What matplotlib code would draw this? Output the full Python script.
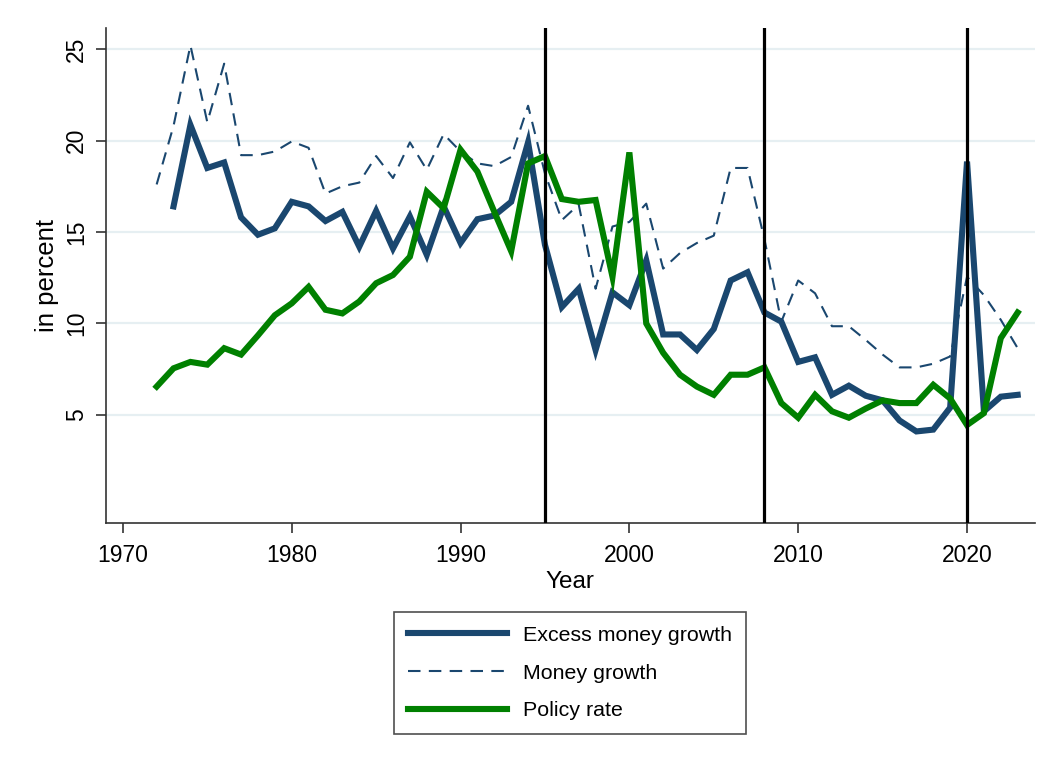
import matplotlib
matplotlib.use("Agg")
import matplotlib.pyplot as plt

# Data
years = list(range(1972, 2024))

excess_money_growth = [
    None, 16.4, 20.85, 18.5, 18.8, 15.8, 14.85, 15.2, 16.65, 16.4,
    15.6, 16.1, 14.2, 16.15, 14.1, 15.85, 13.75, 16.4, 14.4, 15.7,
    15.9, 16.65, 19.9, 14.3, 10.9, 11.9, 8.55, 11.7, 11.0, 13.45,
    9.4, 9.4, 8.55, 9.7, 12.35, 12.8, 10.6, 10.1, 7.9, 8.15,
    6.1, 6.6, 6.05, 5.8, 4.7, 4.1, 4.2, 5.4, 18.85, 5.2,
    6.0, 6.1,
]

money_growth = [
    17.6, 20.8, 25.2, 21.0, 24.2, 19.2, 19.2, 19.4, 19.95, 19.6,
    17.1, 17.5, 17.7, 19.15, 17.95, 19.9, 18.4, 20.35, 19.4, 18.75,
    18.6, 19.1, 21.9, 18.2, 15.65, 16.5, 11.9, 15.3, 15.55, 16.55,
    13.0, 13.85, 14.4, 14.8, 18.5, 18.5, 14.6, 10.1, 12.35, 11.65,
    9.85, 9.85, 9.1, 8.3, 7.6, 7.6, 7.8, 8.2, 12.55, 11.55,
    10.2, 8.65,
]

policy_rate = [
    6.55, 7.55, 7.9, 7.75, 8.65, 8.3, 9.35, 10.45, 11.1, 12.0,
    10.75, 10.55, 11.2, 12.2, 12.65, 13.65, 17.2, 16.3, 19.5, 18.3,
    16.1, 13.95, 18.75, 19.15, 16.8, 16.65, 16.75, 12.55, 19.35, 10.0,
    8.4, 7.2, 6.55, 6.1, 7.2, 7.2, 7.6, 5.65, 4.85, 6.1,
    5.2, 4.85, 5.35, 5.8, 5.65, 5.65, 6.65, 5.9, 4.45, 5.1,
    9.2, 10.6,
]

event_years = [1995, 2008, 2020]
x_ticks = [1970, 1980, 1990, 2000, 2010, 2020]
y_ticks = [5, 10, 15, 20, 25]

navy = "#1a476f"
green = "#008000"

plt.rcParams["font.family"] = ["Liberation Sans", "DejaVu Sans"]

fig = plt.figure(figsize=(10.6, 7.69), dpi=100)
ax = fig.add_axes([0.1, 0.32, 0.876, 0.6436])

ax.plot(years, [float("nan") if v is None else v for v in excess_money_growth],
        color=navy, lw=4.4, label="Excess money growth", zorder=3,
        solid_joinstyle="miter")
ax.plot(years, money_growth, color=navy, lw=1.5, linestyle=(0, (6, 4)),
        label="Money growth", zorder=3)
ax.plot(years, policy_rate, color=green, lw=4.4, label="Policy rate",
        zorder=3, solid_joinstyle="miter")

# structural break markers
for yr in event_years:
    ax.axvline(yr, color="black", lw=2.3, zorder=4)

ax.set_xlim(1969, 2024)
ax.set_ylim(-0.9, 26.15)
ax.set_xticks(x_ticks)
ax.set_yticks(y_ticks)
ax.tick_params(axis="both", direction="out", length=7, width=1.2,
               color="#333333", labelsize=16.5)
ax.tick_params(axis="x", pad=8)
ax.tick_params(axis="y", labelrotation=90, pad=6)
for lbl in ax.get_yticklabels():
    lbl.set_va("center")

ax.grid(axis="y", color="#e6eff2", lw=1.6, zorder=0)
ax.set_axisbelow(True)

for side in ("top", "right"):
    ax.spines[side].set_visible(False)
for side in ("left", "bottom"):
    ax.spines[side].set_color("#333333")
    ax.spines[side].set_linewidth(1.2)

ax.set_xlabel("Year", fontsize=17.5, labelpad=3)
ax.set_ylabel("in percent", fontsize=18.5, labelpad=4)

handles, labels = ax.get_legend_handles_labels()
leg = fig.legend(handles, labels, loc="center",
                 bbox_to_anchor=(0.5377, 0.1248), fontsize=15.4,
                 frameon=True, fancybox=False, handlelength=4.6,
                 handletextpad=0.75, labelspacing=0.88, borderpad=0.65,
                 borderaxespad=0)
leg.get_frame().set_edgecolor("#222222")
leg.get_frame().set_linewidth(1.2)

fig.savefig("out.png", dpi=100)
